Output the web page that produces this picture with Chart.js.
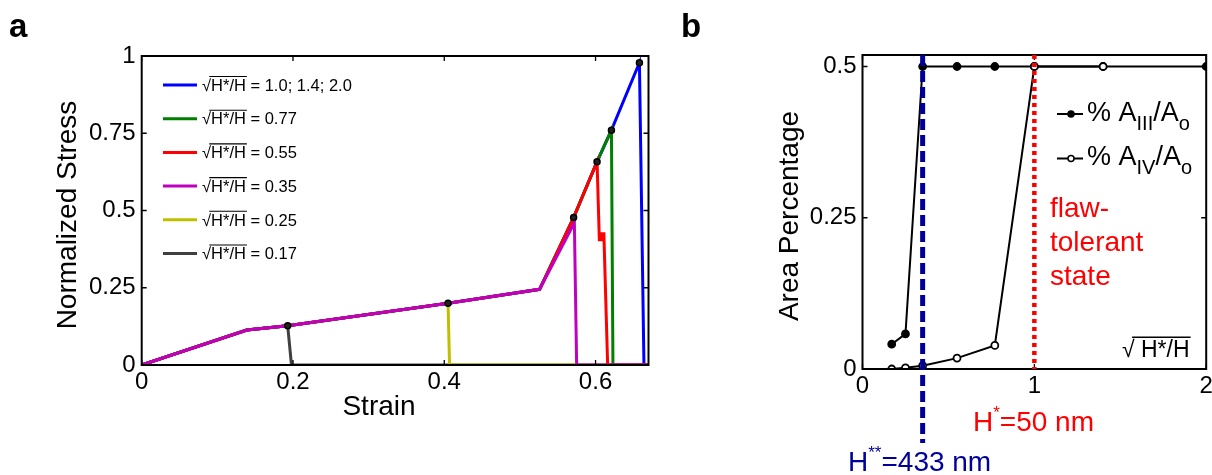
<!DOCTYPE html>
<html>
<head>
<meta charset="utf-8">
<title>Stress-strain and area percentage</title>
<script src="https://cdn.jsdelivr.net/npm/chart.js@4.4.0/dist/chart.umd.min.js"></script>
<style>
  html, body { margin: 0; padding: 0; background: #fff; }
  #wrap { position: relative; width: 1212px; height: 475px; overflow: hidden; }
  canvas { position: absolute; top: 0; }
  #chart-a { left: 0; }
  #chart-b { left: 680px; }
</style>
</head>
<body>
<div id="wrap">
  <canvas id="chart-a" width="680" height="475"></canvas>
  <canvas id="chart-b" width="532" height="475"></canvas>
</div>
<script>
const FONT = '"Liberation Sans", Arial, sans-serif';

// Панель a: кривые напряжение-деформация
const strainTicks = [0, 0.2, 0.4, 0.6];
const stressTicks = [0, 0.25, 0.5, 0.75, 1];
const ratioLabels = ['1.0; 1.4; 2.0', '0.77', '0.55', '0.35', '0.25', '0.17'];
const curveColors = ['#0000ff', '#008000', '#ff0000', '#bf00bf', '#bfbf00', '#404040'];
const curveOrder = [4, 3, 2, 1, 5, 6];

const strainBlue = [0, 0.139, 0.193, 0.405, 0.526, 0.571, 0.602, 0.621, 0.658, 0.664, 0.67];
const stressBlue = [0, 0.113, 0.127, 0.200, 0.245, 0.477, 0.658, 0.760, 0.978, 0, 0];
const strainGreen = [0, 0.139, 0.193, 0.405, 0.526, 0.571, 0.602, 0.621, 0.623, 0.67];
const stressGreen = [0, 0.113, 0.127, 0.200, 0.245, 0.477, 0.658, 0.760, 0, 0];
const strainRed = [0, 0.139, 0.193, 0.405, 0.526, 0.571, 0.602, 0.605, 0.608, 0.608, 0.611, 0.616, 0.67];
const stressRed = [0, 0.113, 0.127, 0.200, 0.245, 0.477, 0.658, 0.405, 0.405, 0.425, 0.425, 0, 0];
const strainMagenta = [0, 0.139, 0.193, 0.405, 0.526, 0.572, 0.575, 0.67];
const stressMagenta = [0, 0.113, 0.127, 0.200, 0.245, 0.460, 0, 0];
const strainYellow = [0, 0.139, 0.193, 0.405, 0.407, 0.67];
const stressYellow = [0, 0.113, 0.127, 0.200, 0, 0];
const strainBlack = [0, 0.139, 0.193, 0.198, 0.67];
const stressBlack = [0, 0.113, 0.127, 0, 0];

const peakStrain = [0.193, 0.405, 0.571, 0.602, 0.621, 0.658];
const peakStress = [0.127, 0.200, 0.477, 0.658, 0.760, 0.978];

// Панель b: доля площади
const ratioValues = [0.17, 0.25, 0.35, 0.55, 0.77, 1.0, 1.4, 2.0];
const areaIII = [0.041, 0.058, 0.5, 0.5, 0.5, 0.5, 0.5, 0.5];
const areaIV = [0.0, 0.002, 0.0055, 0.018, 0.039, 0.5, 0.5, null];
const ratioTicks = [0, 1, 2];
const areaTicks = [0, 0.25, 0.5];
const criticalRatios = [0.35, 1.0];

const toPoints = (xs, ys) => xs.map((x, i) => ({ x, y: ys[i] }));

/**
 * Текст с корнем и чертой над подкоренным выражением
 */
const drawRadical = (ctx, x, y, size, radicand) => {
  ctx.font = `${size}px ${FONT}`;
  ctx.textAlign = 'left';
  ctx.textBaseline = 'alphabetic';
  ctx.fillText('√', x, y);
  const wRoot = ctx.measureText('√').width;
  const wRad = ctx.measureText(radicand).width;
  ctx.fillText(radicand, x + wRoot, y);
  ctx.lineWidth = Math.max(1, size / 15);
  ctx.beginPath();
  ctx.moveTo(x + wRoot * 0.8, y - size * 0.86);
  ctx.lineTo(x + wRoot + wRad + 1, y - size * 0.86);
  ctx.stroke();
  return x + wRoot + wRad;
};

/**
 * Текст с нижними/верхними индексами: parts = [[текст, сдвиг, размер]]
 */
const drawParts = (ctx, x, y, parts) => {
  ctx.textAlign = 'left';
  ctx.textBaseline = 'alphabetic';
  parts.forEach(([text, shift, size]) => {
    ctx.font = `${size}px ${FONT}`;
    ctx.fillText(text, x, y + shift);
    x += ctx.measureText(text).width;
  });
  return x;
};

/**
 * Рамка и внутренние засечки как в MATLAB
 */
const framePlugin = {
  id: 'frame',
  afterDraw(chart) {
    const { ctx, chartArea: a, scales } = chart;
    ctx.save();
    ctx.strokeStyle = '#000';
    ctx.lineWidth = 1.3;
    scales.x.ticks.forEach(t => {
      const px = scales.x.getPixelForValue(t.value);
      ctx.beginPath();
      ctx.moveTo(px, a.bottom); ctx.lineTo(px, a.bottom - 5);
      ctx.moveTo(px, a.top); ctx.lineTo(px, a.top + 5);
      ctx.stroke();
    });
    scales.y.ticks.forEach(t => {
      const py = scales.y.getPixelForValue(t.value);
      ctx.beginPath();
      ctx.moveTo(a.left, py); ctx.lineTo(a.left + 5, py);
      ctx.moveTo(a.right, py); ctx.lineTo(a.right - 5, py);
      ctx.stroke();
    });
    ctx.lineWidth = 2;
    ctx.strokeRect(a.left, a.top, a.right - a.left, a.bottom - a.top);
    ctx.restore();
  }
};

const axisTitle = (ctx, text, x, y, size, rotate) => {
  ctx.save();
  ctx.translate(x, y);
  if (rotate) ctx.rotate(-Math.PI / 2);
  ctx.font = `${size}px ${FONT}`;
  ctx.fillStyle = '#000';
  ctx.textAlign = 'center';
  ctx.textBaseline = 'middle';
  ctx.fillText(text, 0, 0);
  ctx.restore();
};

// Подписи и легенда панели a
const annotateA = {
  id: 'annotateA',
  afterDraw(chart) {
    const { ctx } = chart;
    ctx.save();
    ctx.fillStyle = '#000';
    ctx.font = `bold 33px ${FONT}`;
    ctx.textAlign = 'left';
    ctx.textBaseline = 'alphabetic';
    ctx.fillText('a', 9, 37);

    axisTitle(ctx, 'Normalized Stress', 68, 215, 28, true);
    axisTitle(ctx, 'Strain', 379, 407, 28, false);

    ratioLabels.forEach((label, i) => {
      const y = 85 + i * 33.7;
      ctx.strokeStyle = curveColors[i];
      ctx.lineWidth = 3;
      ctx.beginPath();
      ctx.moveTo(163, y);
      ctx.lineTo(197, y);
      ctx.stroke();
      ctx.fillStyle = '#000';
      ctx.strokeStyle = '#000';
      const end = drawRadical(ctx, 202, y + 5.7, 16.5, 'H*/H');
      ctx.fillText(' = ' + label, end, y + 5.7);
    });
    ctx.restore();
  }
};

// Подписи, линии и легенда панели b
const annotateB = {
  id: 'annotateB',
  afterDraw(chart) {
    const { ctx, chartArea: a, scales } = chart;
    ctx.save();
    ctx.fillStyle = '#000';
    ctx.font = `bold 33px ${FONT}`;
    ctx.textAlign = 'left';
    ctx.textBaseline = 'alphabetic';
    ctx.fillText('b', 1, 37);

    axisTitle(ctx, 'Area Percentage', 110, 216, 28, true);

    // вертикальные линии H** и H*
    const xBlue = scales.x.getPixelForValue(criticalRatios[0]);
    const xRed = scales.x.getPixelForValue(criticalRatios[1]);
    ctx.strokeStyle = '#00009a';
    ctx.lineWidth = 5;
    ctx.setLineDash([11, 5]);
    ctx.beginPath();
    ctx.moveTo(xBlue, a.top);
    ctx.lineTo(xBlue, 443);
    ctx.stroke();
    ctx.strokeStyle = '#ff0000';
    ctx.lineWidth = 4.5;
    ctx.setLineDash([4, 4]);
    ctx.beginPath();
    ctx.moveTo(xRed, a.top);
    ctx.lineTo(xRed, a.bottom);
    ctx.stroke();
    ctx.setLineDash([]);

    // легенда
    const rows = [
      { y: 114, fill: '#000', sub: 'III' },
      { y: 158.5, fill: '#fff', sub: 'IV' }
    ];
    rows.forEach(r => {
      ctx.strokeStyle = '#000';
      ctx.lineWidth = 2;
      ctx.beginPath();
      ctx.moveTo(377, r.y);
      ctx.lineTo(403, r.y);
      ctx.stroke();
      ctx.lineWidth = 1.5;
      ctx.beginPath();
      ctx.arc(391, r.y, 3, 0, Math.PI * 2);
      ctx.fillStyle = r.fill;
      ctx.fill();
      ctx.stroke();
      ctx.fillStyle = '#000';
      drawParts(ctx, 407, r.y + 6.5, [
        ['% A', 0, 27], [r.sub, 9, 20], ['/A', 0, 27], ['o', 9, 20]
      ]);
    });

    // подпись оси внутри графика
    ctx.fillStyle = '#000';
    ctx.strokeStyle = '#000';
    drawRadical(ctx, 442, 357, 23, ' H*/H');

    // красный текст
    ctx.fillStyle = '#ff0000';
    ctx.font = `28px ${FONT}`;
    ['flaw-', 'tolerant', 'state'].forEach((t, i) => {
      ctx.fillText(t, 370, 217 + i * 34);
    });
    drawParts(ctx, 293, 431, [['H', 0, 28], ['*', -13, 17], ['=50 nm', 0, 28]]);

    ctx.fillStyle = '#00009a';
    drawParts(ctx, 168, 471, [['H', 0, 28], ['**', -13, 17], ['=433 nm', 0, 28]]);
    ctx.restore();
  }
};

const tickFont = { family: FONT, size: 24 };

const fixedTicks = values => scale => {
  scale.ticks = values.map(v => ({ value: v }));
};

const makeScales = (xMin, xMax, xTicks, yMin, yMax, yTicks, yWidth, xHeight) => ({
  x: {
    type: 'linear',
    min: xMin,
    max: xMax,
    afterBuildTicks: fixedTicks(xTicks),
    afterFit: s => { s.height = xHeight; s.paddingLeft = 0; s.paddingRight = 0; },
    grid: { display: false, drawTicks: false },
    border: { display: false },
    ticks: { color: '#000', font: tickFont, padding: 3, maxRotation: 0, autoSkip: false, callback: v => String(v) }
  },
  y: {
    type: 'linear',
    min: yMin,
    max: yMax,
    afterBuildTicks: fixedTicks(yTicks),
    afterFit: s => { s.width = yWidth; s.paddingTop = 0; s.paddingBottom = 0; },
    grid: { display: false, drawTicks: false },
    border: { display: false },
    ticks: { color: '#000', font: tickFont, padding: 6, autoSkip: false, callback: v => String(v) }
  }
});

const baseOptions = {
  responsive: false,
  animation: false,
  events: [],
  plugins: { legend: { display: false }, tooltip: { enabled: false } }
};

// Панель a
const curveData = [
  [strainBlue, stressBlue],
  [strainGreen, stressGreen],
  [strainRed, stressRed],
  [strainMagenta, stressMagenta],
  [strainYellow, stressYellow],
  [strainBlack, stressBlack]
];

const curveDatasets = curveData.map(([xs, ys], i) => ({
  label: ratioLabels[i],
  data: toPoints(xs, ys),
  borderColor: curveColors[i],
  borderWidth: 3,
  pointRadius: 0,
  tension: 0,
  fill: false,
  order: curveOrder[i]
}));

curveDatasets.push({
  label: 'peaks',
  data: toPoints(peakStrain, peakStress),
  showLine: false,
  pointRadius: 3,
  pointBackgroundColor: '#222',
  pointBorderColor: '#000',
  pointBorderWidth: 1.5,
  order: 0
});

new Chart(document.getElementById('chart-a'), {
  type: 'line',
  data: { datasets: curveDatasets },
  options: {
    ...baseOptions,
    layout: { padding: { left: 0, right: 31.5, top: 56, bottom: 0 } },
    scales: makeScales(0, 0.67, strainTicks, 0, 1, stressTicks, 141.7, 110)
  },
  plugins: [framePlugin, annotateA]
});

// Панель b
new Chart(document.getElementById('chart-b'), {
  type: 'line',
  data: {
    datasets: [
      {
        label: '% AIV/Ao',
        data: toPoints(ratioValues, areaIV),
        borderColor: '#000',
        borderWidth: 2,
        pointRadius: 3.5,
        pointBackgroundColor: '#fff',
        pointBorderColor: '#000',
        pointBorderWidth: 1.8,
        tension: 0,
        order: 0
      },
      {
        label: '% AIII/Ao',
        data: toPoints(ratioValues, areaIII),
        borderColor: '#000',
        borderWidth: 2,
        pointRadius: 3.5,
        pointBackgroundColor: '#000',
        pointBorderColor: '#000',
        pointBorderWidth: 1.8,
        tension: 0,
        order: 1
      }
    ]
  },
  options: {
    ...baseOptions,
    layout: { padding: { left: 0, right: 4, top: 55, bottom: 0 } },
    scales: makeScales(0, 2, ratioTicks, 0, 0.519, areaTicks, 182.5, 106)
  },
  plugins: [framePlugin, annotateB]
});
</script>
</body>
</html>
